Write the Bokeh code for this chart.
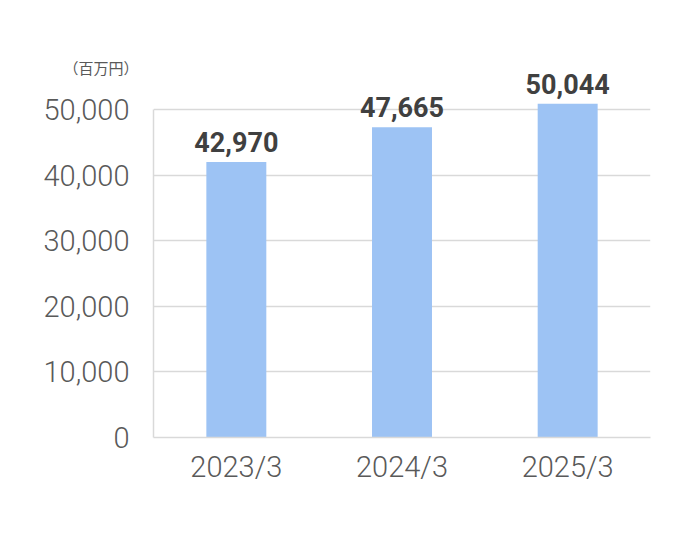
from bokeh.plotting import figure
from bokeh.models import ColumnDataSource, Range1d, FactorRange, FixedTicker, NumeralTickFormatter, Title
from bokeh.core.properties import value
from bokeh.embed import file_html
from bokeh.resources import INLINE

categories = ["2023/3", "2024/3", "2025/3"]
bar_heights = [42000, 47300, 50900]
value_labels = ["42,970", "47,665", "50,044"]
y_ticks = [0, 10000, 20000, 30000, 40000, 50000]
unit_text = "（百万円）"

src = ColumnDataSource(dict(cat=categories, h=bar_heights, lab=value_labels))

p = figure(width=682, height=536, x_range=FactorRange(*categories, range_padding=0),
           y_range=Range1d(0, 55500), output_backend="svg", toolbar_location=None,
           min_border_left=153, min_border_right=32, min_border_top=73, min_border_bottom=99)
p.outline_line_color = None
p.background_fill_color = "white"

p.vbar(x="cat", top="h", width=0.362, source=src, color="#9DC3F4", line_color=None)

grid = "#d9d9d9"
p.xgrid.grid_line_color = None
p.ygrid.grid_line_color = grid
p.ygrid.grid_line_width = 1.5
p.ygrid.level = "underlay"

p.yaxis.ticker = FixedTicker(ticks=y_ticks)
p.yaxis.formatter = NumeralTickFormatter(format="0,0")
p.yaxis.bounds = (0, 50000)
for ax in (p.xaxis, p.yaxis):
    ax.axis_line_color = grid
    ax.axis_line_width = 1.5
    ax.major_tick_line_color = None
    ax.minor_tick_line_color = None
    ax.major_label_text_font = "Roboto Light"
    ax.major_label_text_font_size = "29px"
    ax.major_label_text_color = "#595959"
p.yaxis.major_label_standoff = 18
p.xaxis.major_label_standoff = 6

p.text(x="cat", y="h", text="lab", source=src, text_align="center",
       text_baseline="alphabetic", y_offset=-20, text_font=value("Roboto"),
       text_font_style="bold", text_font_size="27px", text_color="#404040")

unit = Title(text=unit_text, align="left", offset=-90, standoff=-8,
             text_font="Noto Sans CJK JP", text_font_size="15px",
             text_font_style="normal", text_color="#595959")
p.add_layout(unit, "above")

open("out.html", "w").write(file_html(p, INLINE))
